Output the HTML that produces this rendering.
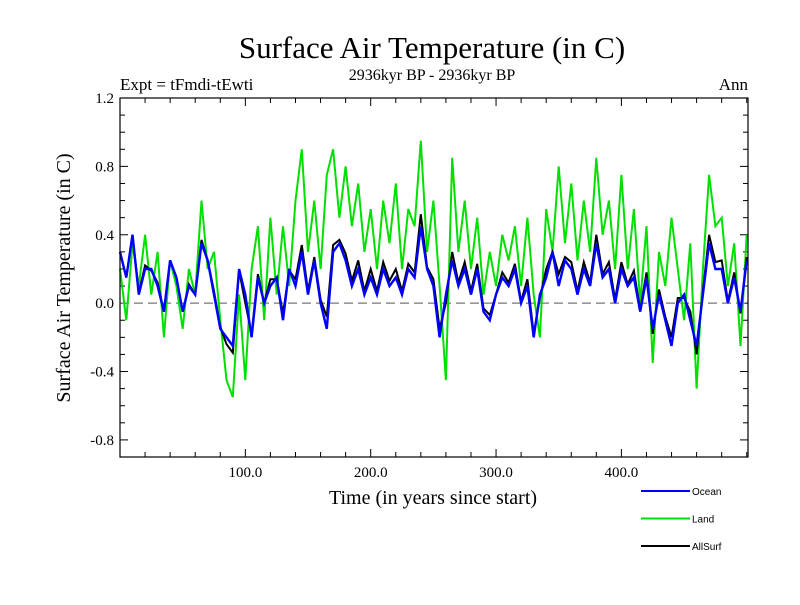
<!DOCTYPE html>
<html><head><meta charset="utf-8"><style>
body{margin:0;background:#fff;}
svg text{font-family:"Liberation Serif",serif;}
</style></head><body>
<svg id="chart" width="800" height="600" xmlns="http://www.w3.org/2000/svg">
<rect width="800" height="600" fill="#fff"/>
<text x="432" y="58" font-size="31" text-anchor="middle">Surface Air Temperature (in C)</text>
<text x="432" y="80" font-size="16" text-anchor="middle">2936kyr BP - 2936kyr BP</text>
<text x="120" y="90" font-size="17">Expt = tFmdi-tEwti</text>
<text x="748" y="90" font-size="17" text-anchor="end">Ann</text>
<text transform="translate(70,278) rotate(-90)" font-size="20" text-anchor="middle">Surface Air Temperature (in C)</text>
<text x="433" y="504" font-size="20" text-anchor="middle">Time (in years since start)</text>
<g id="axes"></g>
<g id="series"></g>
<rect x="120" y="98" width="628" height="359" fill="none" stroke="#000" stroke-width="1.2"/>
<g id="legend"></g>
</svg>
<script>
const years=[0,5,10,15,20,25,30,35,40,45,50,55,60,65,70,75,80,85,90,95,100,105,110,115,120,125,130,135,140,145,150,155,160,165,170,175,180,185,190,195,200,205,210,215,220,225,230,235,240,245,250,255,260,265,270,275,280,285,290,295,300,305,310,315,320,325,330,335,340,345,350,355,360,365,370,375,380,385,390,395,400,405,410,415,420,425,430,435,440,445,450,455,460,465,470,475,480,485,490,495,500];
const land=[0.2,-0.1,0.35,0.1,0.4,0.05,0.3,-0.2,0.25,0.1,-0.15,0.2,0.05,0.6,0.2,0.3,-0.1,-0.45,-0.55,0.05,-0.45,0.2,0.45,-0.1,0.5,0.05,0.45,0.1,0.6,0.9,0.3,0.6,0.2,0.75,0.9,0.5,0.8,0.45,0.7,0.3,0.55,0.2,0.6,0.35,0.7,0.2,0.55,0.45,0.95,0.3,0.6,0.1,-0.45,0.85,0.3,0.6,0.2,0.5,0.05,0.3,0.1,0.4,0.25,0.45,0.1,0.5,0.05,-0.2,0.55,0.3,0.8,0.35,0.7,0.25,0.6,0.3,0.85,0.4,0.6,0.2,0.75,0.2,0.55,0.0,0.45,-0.35,0.3,0.1,0.5,0.2,-0.1,0.35,-0.5,0.2,0.75,0.45,0.5,0.1,0.35,-0.25,0.4];
const allsurf=[0.3,0.15,0.4,0.06,0.22,0.19,0.12,-0.05,0.25,0.15,-0.05,0.11,0.05,0.37,0.25,0.07,-0.14,-0.24,-0.29,0.19,0.0,-0.18,0.17,0.0,0.14,0.14,-0.06,0.19,0.14,0.34,0.07,0.27,0.02,-0.08,0.34,0.37,0.29,0.13,0.25,0.07,0.2,0.07,0.24,0.13,0.2,0.07,0.23,0.18,0.52,0.21,0.14,-0.15,0.0,0.3,0.12,0.24,0.07,0.23,-0.03,-0.07,0.05,0.18,0.12,0.23,0.01,0.14,-0.18,0.03,0.2,0.3,0.17,0.27,0.24,0.07,0.24,0.12,0.4,0.17,0.24,0.02,0.24,0.11,0.19,-0.04,0.18,-0.18,0.08,-0.08,-0.2,0.03,0.03,-0.05,-0.3,0.07,0.4,0.24,0.25,0.01,0.18,-0.06,0.27];
const ocean=[0.3,0.15,0.4,0.05,0.2,0.2,0.1,-0.05,0.25,0.15,-0.05,0.1,0.05,0.35,0.25,0.05,-0.15,-0.2,-0.25,0.2,0.05,-0.2,0.15,0.0,0.1,0.15,-0.1,0.2,0.1,0.3,0.05,0.25,0.0,-0.15,0.3,0.35,0.25,0.1,0.2,0.05,0.15,0.05,0.2,0.1,0.15,0.05,0.2,0.15,0.45,0.2,0.1,-0.2,0.05,0.25,0.1,0.2,0.05,0.2,-0.05,-0.1,0.05,0.15,0.1,0.2,0.0,0.1,-0.2,0.05,0.15,0.3,0.1,0.25,0.2,0.05,0.2,0.1,0.35,0.15,0.2,0.0,0.2,0.1,0.15,-0.05,0.15,-0.15,0.05,-0.1,-0.25,0.0,0.05,-0.1,-0.25,0.05,0.35,0.2,0.2,0.0,0.15,-0.05,0.25];
const yTicks=[-0.8,-0.4,0.0,0.4,0.8,1.2];
const yTickLabels=["-0.8","-0.4","0.0","0.4","0.8","1.2"];
const xTicks=[100,200,300,400];
const xTickLabels=["100.0","200.0","300.0","400.0"];
const seriesNames=["Ocean","Land","AllSurf"];

const NS="http://www.w3.org/2000/svg";
const X0=120,X1=748,Y0=98,Y1=457,xmin=0,xmax=501,ymin=-0.9,ymax=1.2;
function sx(v){return X0+(v-xmin)/(xmax-xmin)*(X1-X0);}
function sy(v){return Y1-(v-ymin)/(ymax-ymin)*(Y1-Y0);}
function mk(tag,attrs,parent){const e=document.createElementNS(NS,tag);for(const k in attrs)e.setAttribute(k,attrs[k]);parent.appendChild(e);return e;}
const axes=document.getElementById('axes');
for(let v=-0.9;v<=1.2001;v+=0.1){
  const r=Math.round(v*10)/10;const y=sy(r);const major=yTicks.some(t=>Math.abs(t-r)<1e-6);const L=major?8:5;
  const t1=mk('line',{x1:X0,x2:X0+L,y1:y,y2:y,stroke:'#000'},axes);
  
  
  const t2=mk('line',{x1:X1-L,x2:X1,y1:y,y2:y,stroke:'#000'},axes);
  
  
}
yTicks.forEach((v,i)=>{const t=mk('text',{x:X0-6,y:sy(v)+5,'font-size':15,'text-anchor':'end'},axes);t.textContent=yTickLabels[i];
  
  });
for(let v=20;v<=500;v+=20){const major=xTicks.includes(v);const L=major?8:5;const x=sx(v);
  const t1=mk('line',{x1:x,x2:x,y1:Y1,y2:Y1-L,stroke:'#000'},axes);
  
  
  const t2=mk('line',{x1:x,x2:x,y1:Y0,y2:Y0+L,stroke:'#000'},axes);
  
  }
xTicks.forEach((v,i)=>{const t=mk('text',{x:sx(v),y:Y1+20,'font-size':15,'text-anchor':'middle'},axes);t.textContent=xTickLabels[i];
  
  });
const zl=mk('line',{x1:X0,x2:X1,y1:sy(0),y2:sy(0),stroke:'#777','stroke-width':1.3,'stroke-dasharray':'9,5'},axes);


const g=document.getElementById('series');
function pts(arr){return arr.map((v,i)=>sx(years[i]).toFixed(1)+','+sy(v).toFixed(1)).join(' ');}
const pl=mk('polyline',{points:pts(land),fill:'none',stroke:'#00e000','stroke-width':2},g);


const pa=mk('polyline',{points:pts(allsurf),fill:'none',stroke:'#000','stroke-width':2},g);


const po=mk('polyline',{points:pts(ocean),fill:'none',stroke:'#0000ff','stroke-width':2.4},g);


const lg=document.getElementById('legend');
const lc=['#0000ff','#00e000','#000'];
seriesNames.forEach((n,i)=>{const y=491+i*27.5;
  const l=mk('line',{x1:641,x2:690,y1:y,y2:y,stroke:lc[i],'stroke-width':2},lg);
  
  
  const t=mk('text',{x:692,y:y+4,'font-size':10,style:'font-family:"Liberation Sans",sans-serif'},lg);t.textContent=n;
  
  });
</script>
</body></html>
